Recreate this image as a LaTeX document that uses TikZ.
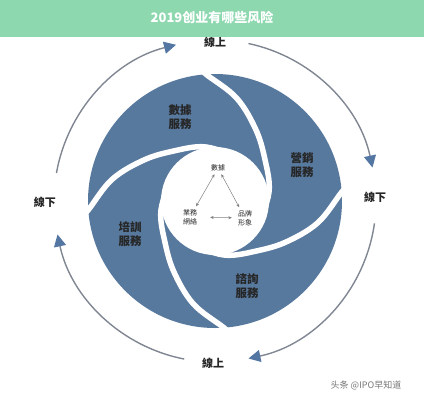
\documentclass[tikz,border=0pt]{standalone}
\usepackage{fontspec}
\newfontfamily\tcfont{Noto Sans CJK TC}
\newfontfamily\scfont{Noto Sans CJK SC}
\usetikzlibrary{arrows.meta,calc}
\definecolor{hdr}{RGB}{142,216,176}
\definecolor{blade}{RGB}{88,121,158}
\definecolor{tipblue}{RGB}{84,118,162}
\definecolor{arcgray}{RGB}{128,134,146}
\definecolor{wm}{RGB}{120,120,120}
\begin{document}
\begin{tikzpicture}[x=1pt,y=1pt,
  outlbl/.style={font=\tcfont\bfseries\fontsize{11}{13}\selectfont, text=black!85, inner sep=1pt},
  bladelbl/.style={font=\tcfont\bfseries\fontsize{11.5}{14}\selectfont, text=black!85, align=center, inner sep=1pt},
  innerlbl/.style={font=\tcfont\fontsize{7}{9}\selectfont, text=black!85, align=center, inner sep=1pt},
  outarc/.style={draw=arcgray, line width=1.4pt, -{Triangle[length=12pt,width=12pt,color=tipblue]}},
  biarrow/.style={draw=black!50, line width=0.5pt, {Stealth[length=3.5pt,width=3pt]}-{Stealth[length=3.5pt,width=3pt]}},
  stripe/.style={draw=white, line width=5.5pt}
]
\useasboundingbox (0,0) rectangle (424,-400);
\fill[white] (0,0) rectangle (424,-400);
\coordinate (c) at (215,-201);
% blue disk with swirl stripes
\fill[blade] (c) circle[radius=127pt];
\foreach \k in {0,1,2,3}{
  \begin{scope}[shift={(215,-201)}, rotate=-90*\k]
    \draw[stripe] plot[smooth, tension=0.6] coordinates {(188:138) (184:127) (168:105) (149:81) (126:63) (104:56) (85:51) (70:49)};
  \end{scope}
}
\fill[white] (c) circle[radius=54pt];
% blade labels
\node[bladelbl] (b1) at (180,-117) {數據\\服務};
\node[bladelbl] (b2) at (302,-165) {營銷\\服務};
\node[bladelbl] (b3) at (247,-286) {諮詢\\服務};
\node[bladelbl] (b4) at (130,-234) {培訓\\服務};
% inner labels
\node[innerlbl] (d) at (218,-168) {數據};
\node[innerlbl] (yw) at (190,-217) {業務\\網絡};
\node[innerlbl] (pp) at (245,-218) {品牌\\形象};
\draw[biarrow, shorten <=2pt, shorten >=2pt] (d) -- (yw);
\draw[biarrow, shorten <=2pt, shorten >=2pt] (d) -- (pp);
\draw[biarrow, shorten <=12pt, shorten >=5pt] (yw) -- (pp);
% outer cycle
\node[outlbl] (top) at (215,-42) {線上};
\node[outlbl] (bot) at (213,-363) {線上};
\node[outlbl] (lft) at (45,-202) {線下};
\node[outlbl] (rgt) at (375,-197) {線下};
\draw[outarc] ($(c)+(170:161)$) arc[start angle=170, end angle=104, radius=161pt];
\draw[outarc] ($(c)+(78:161)$) arc[start angle=78, end angle=12, radius=161pt];
\draw[outarc] ($(c)+(-8:161)$) arc[start angle=-8, end angle=-78, radius=161pt];
\draw[outarc] ($(c)+(-101:161)$) arc[start angle=-101, end angle=-168, radius=161pt];
% header
\fill[hdr] (0,0) rectangle (424,-37);
\node[font=\scfont\bfseries\fontsize{13}{15}\selectfont, text=white] (title) at (212,-18) {2019创业有哪些风险};
% watermark
\node[font=\scfont\fontsize{9}{11}\selectfont, text=wm] (wmk) at (366,-385) {头条 @IPO早知道};
\end{tikzpicture}
\end{document}
